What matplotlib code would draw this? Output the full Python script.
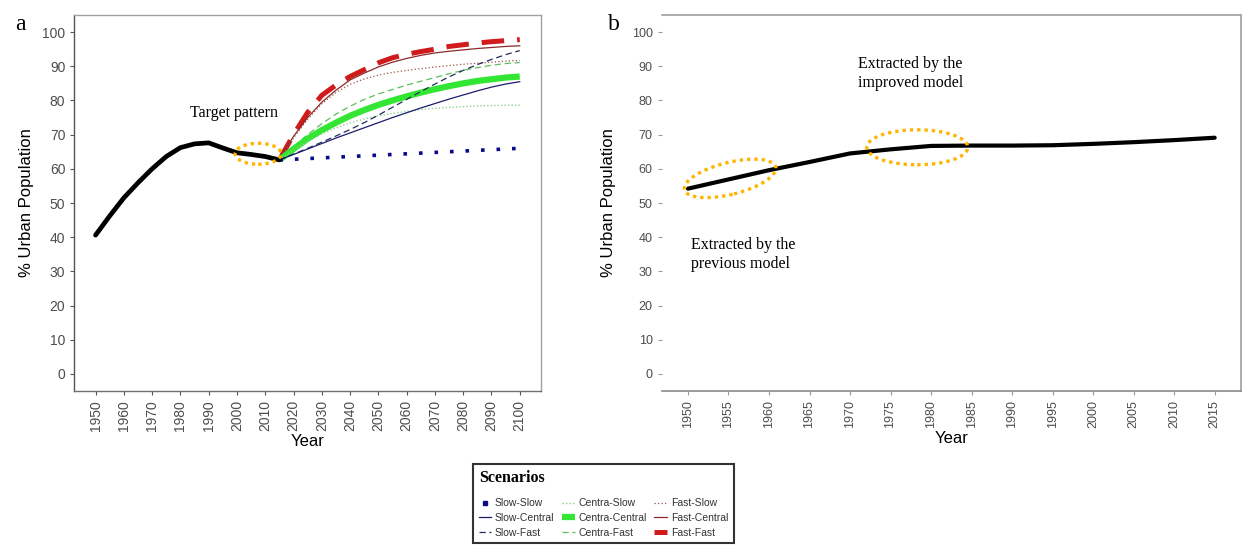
import matplotlib
matplotlib.use("Agg")
import matplotlib.pyplot as plt
from matplotlib.patches import Ellipse
from matplotlib.lines import Line2D
from matplotlib.transforms import ScaledTranslation

plt.rcParams["font.family"] = ["Liberation Sans", "DejaVu Sans"]

# historical urbanisation (panel a)
hist_years = [1950, 1955, 1960, 1965, 1970, 1975, 1980, 1985, 1990, 1995, 2000, 2005, 2010, 2015]
hist_pct = [40.6, 46.2, 51.5, 55.9, 60.0, 63.6, 66.2, 67.3, 67.6, 66.1, 64.7, 64.2, 63.6, 62.6]

# projections 2015-2100
proj_years = [2015, 2020, 2025, 2030, 2035, 2040, 2045, 2050, 2055, 2060,
              2065, 2070, 2075, 2080, 2085, 2090, 2095, 2100]
slow_slow = [62.6, 62.8, 63.0, 63.2, 63.4, 63.6, 63.8, 64.0, 64.2, 64.4,
             64.6, 64.8, 65.0, 65.2, 65.4, 65.6, 65.8, 66.0]
slow_central = [62.6, 64.2, 65.8, 67.4, 69.0, 70.5, 72.0, 73.5, 75.0, 76.4,
                77.8, 79.1, 80.4, 81.6, 82.8, 83.9, 84.8, 85.5]
slow_fast = [62.6, 64.3, 66.0, 67.8, 69.6, 71.5, 73.5, 75.7, 78.0, 80.3,
             82.6, 84.8, 86.9, 88.8, 90.5, 92.0, 93.4, 94.6]
centra_slow = [62.6, 65.5, 68.0, 70.2, 72.0, 73.4, 74.6, 75.5, 76.2, 76.8,
               77.3, 77.7, 78.0, 78.2, 78.4, 78.5, 78.6, 78.6]
centra_central = [62.6, 65.8, 68.8, 71.3, 73.5, 75.5, 77.2, 78.7, 80.0, 81.2,
                  82.3, 83.3, 84.2, 85.0, 85.7, 86.2, 86.7, 87.0]
centra_fast = [62.6, 66.5, 70.0, 73.2, 76.0, 78.3, 80.3, 81.9, 83.2, 84.5,
               85.6, 86.7, 87.8, 88.8, 89.6, 90.3, 90.8, 91.1]
fast_slow = [62.6, 69.0, 74.5, 79.0, 82.3, 84.7, 86.3, 87.4, 88.2, 88.8,
             89.3, 89.8, 90.2, 90.6, 90.9, 91.2, 91.5, 91.7]
fast_central = [62.6, 69.5, 75.0, 79.5, 83.0, 86.0, 88.0, 89.8, 91.2, 92.3,
                93.2, 93.9, 94.4, 94.8, 95.2, 95.5, 95.8, 96.0]
fast_fast = [62.6, 70.0, 76.5, 81.5, 84.5, 87.0, 89.0, 91.0, 92.5, 93.5,
             94.3, 95.0, 95.8, 96.3, 96.8, 97.2, 97.5, 97.8]

# panel b series
b_years = [1950, 1955, 1960, 1965, 1970, 1975, 1980, 1985, 1990, 1995, 2000, 2005, 2010, 2015]
b_pct = [54.2, 56.9, 59.6, 62.0, 64.5, 65.7, 66.7, 66.8, 66.8, 66.9, 67.3, 67.8, 68.4, 69.1]

y_ticks = list(range(0, 101, 10))
a_xticks = list(range(1950, 2101, 10))
b_xticks = list(range(1950, 2016, 5))

scenarios = [
    ("Slow-Slow", slow_slow, dict(color="#0a0a8c", lw=2.6, dashes=(1, 3.3), dash_capstyle="butt")),
    ("Slow-Central", slow_central, dict(color="#1c1c6e", lw=0.9, ls="-")),
    ("Slow-Fast", slow_fast, dict(color="#1f2d5a", lw=0.9, dashes=(5, 3))),
    ("Centra-Slow", centra_slow, dict(color="#8fcf8f", lw=1.0, dashes=(1, 1.5))),
    ("Centra-Central", centra_central, dict(color="#33e633", lw=4.5, ls="-", solid_capstyle="butt")),
    ("Centra-Fast", centra_fast, dict(color="#5cbf5c", lw=0.9, dashes=(5, 3))),
    ("Fast-Slow", fast_slow, dict(color="#a0524a", lw=0.9, dashes=(1, 1.8))),
    ("Fast-Central", fast_central, dict(color="#8b2a2a", lw=0.9, ls="-")),
    ("Fast-Fast", fast_fast, dict(color="#d11a1a", lw=3.6, dashes=(4.5, 2.6), dash_capstyle="butt")),
]

fig = plt.figure(figsize=(12.43, 5.46), dpi=100)
ax_a = fig.add_axes([0.0598, 0.2839, 0.3754, 0.6886])
ax_b = fig.add_axes([0.5323, 0.2839, 0.4661, 0.6886])

orange = "#ffb400"


def pixel_ellipse(ax, xy, w_px, h_px, angle):
    # ellipse sized in pixels, anchored at a data point
    trans = fig.dpi_scale_trans + ScaledTranslation(xy[0], xy[1], ax.transData)
    e = Ellipse((0, 0), w_px / fig.dpi, h_px / fig.dpi, angle=angle, transform=trans,
                fill=False, edgecolor=orange, lw=2.4, linestyle=(0, (1, 1.2)), zorder=5)
    ax.add_patch(e)


# panel a
for label, vals, style in scenarios[::-1]:
    ax_a.plot(proj_years, vals, label=label, **style)
ax_a.plot(hist_years, hist_pct, color="black", lw=3.4, solid_capstyle="round", zorder=4)
pixel_ellipse(ax_a, (2007.5, 64.4), 46, 21, 0)
ax_a.text(1999, 76.3, "Target pattern", family="Liberation Serif", fontsize=11.5,
          ha="center", va="center")

ax_a.set_xlim(1942.5, 2107.5)
ax_a.set_ylim(-5, 105)
ax_a.set_xticks(a_xticks)
ax_a.set_yticks(y_ticks)
ax_a.tick_params(axis="x", rotation=90)
ax_a.tick_params(labelsize=10, labelcolor="#4d4d4d", color="#555555", length=3, width=0.8)
for s in ax_a.spines.values():
    s.set_color("#a0a0a0")
    s.set_linewidth(1.0)
ax_a.spines["left"].set_color("#555555")
ax_a.spines["bottom"].set_color("#707070")
ax_a.set_xlabel("Year", fontsize=12, labelpad=2)
ax_a.set_ylabel("% Urban Population", fontsize=12, labelpad=6)
fig.text(0.012, 0.955, "a", family="Liberation Serif", fontsize=17, va="center")

# panel b
ax_b.plot(b_years, b_pct, color="black", lw=3.0, solid_capstyle="round", zorder=4)
pixel_ellipse(ax_b, (1955.2, 57.2), 94, 32, 14)
pixel_ellipse(ax_b, (1978.3, 66.3), 101, 35, 0)
ax_b.text(1971.0, 88.0, "Extracted by the\nimproved model", family="Liberation Serif",
          fontsize=11.5, ha="left", va="center", linespacing=1.25)
ax_b.text(1950.4, 35.0, "Extracted by the\nprevious model", family="Liberation Serif",
          fontsize=11.5, ha="left", va="center", linespacing=1.25)

ax_b.set_xlim(1946.75, 2018.25)
ax_b.set_ylim(-5, 105)
ax_b.set_xticks(b_xticks)
ax_b.set_yticks(y_ticks)
ax_b.tick_params(axis="x", rotation=90)
ax_b.tick_params(labelsize=9, labelcolor="#4d4d4d", color="#999999", length=3, width=0.8)
ax_b.spines["left"].set_visible(False)
for side in ["top", "right", "bottom"]:
    ax_b.spines[side].set_color("#a0a0a0")
    ax_b.spines[side].set_linewidth(1.2)
ax_b.spines["bottom"].set_color("#8a8a8a")
ax_b.set_xlabel("Year", fontsize=12, labelpad=2)
ax_b.set_ylabel("% Urban Population", fontsize=12, labelpad=11)
fig.text(0.489, 0.955, "b", family="Liberation Serif", fontsize=17, va="center")

# scenario legend
handles = [Line2D([], [], label=lab, **st) for lab, _, st in scenarios]
handles[0] = Line2D([], [], label="Slow-Slow", color="#0a0a8c", ls="none", marker="s", markersize=3)
leg = fig.legend(handles=handles, ncol=3, loc="upper left", bbox_to_anchor=(0.3805, 0.150),
                 title="Scenarios", alignment="left", frameon=True, fancybox=False,
                 edgecolor="black", fontsize=7.5, handlelength=1.2, handletextpad=0.35,
                 columnspacing=0.75, labelspacing=0.45, borderpad=0.55, borderaxespad=0)
leg._legend_box.sep = 9
leg.get_frame().set_linewidth(1.5)
leg.get_title().set_fontproperties({"family": "Liberation Serif", "weight": "bold", "size": 11.5})
for t in leg.get_texts():
    t.set_color("#333333")

fig.savefig("out.png", dpi=100)
